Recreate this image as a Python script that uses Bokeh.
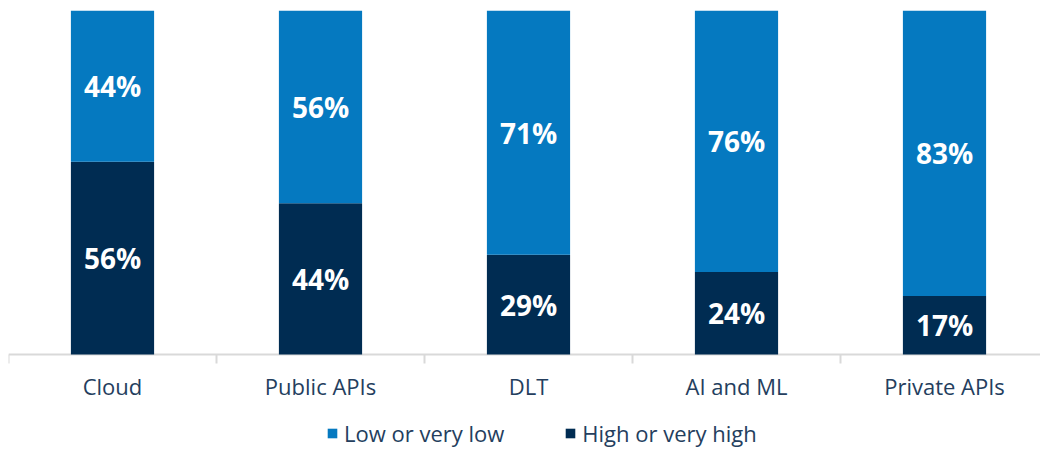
from bokeh.plotting import figure
from bokeh.models import ColumnDataSource, Range1d, Legend, LegendItem
from bokeh.core.properties import value
from bokeh.embed import file_html
from bokeh.resources import INLINE

categories = ["Cloud", "Public APIs", "DLT", "AI and ML", "Private APIs"]
high = [56, 44, 29, 24, 17]
low = [44, 56, 71, 76, 83]
series_names = ["Low or very low", "High or very high"]

BLUE = "#0579C0"
NAVY = "#002C52"
TEXT = "#243E5E"
GRID = "#D9D9D9"
FONT = "Open Sans"

# layout: frame spans y=10..450 px; value 0 sits at 354 px, 100 at 10 px
PX_PER_UNIT = 344 / 100
Y_MIN = -(450 - 354) / PX_PER_UNIT
X_MAX = 1032 / 208

x = [i + 0.5 for i in range(len(categories))]
src = ColumnDataSource(dict(
    x=x, zero=[0] * len(x), high_top=high,
    low_bottom=high, low_top=[h + l for h, l in zip(high, low)],
    high_mid=[h / 2 for h in high], low_mid=[h + l / 2 for h, l in zip(high, low)],
    high_lbl=[f"{v}%" for v in high], low_lbl=[f"{v}%" for v in low],
    cat=categories, cat_y=[-(385 - 354) / PX_PER_UNIT] * len(x),
))

p = figure(width=1040, height=450, output_backend="svg", toolbar_location=None,
           x_range=Range1d(0, X_MAX), y_range=Range1d(Y_MIN, 100),
           min_border_left=8, min_border_right=0, min_border_top=10, min_border_bottom=0)
p.outline_line_color = None
p.grid.visible = False
p.xaxis.visible = False
p.yaxis.visible = False
p.background_fill_color = "white"
p.border_fill_color = "white"

# baseline and category boundary ticks
bounds = list(range(len(categories) + 1))
p.segment(x0=[0], y0=[0], x1=[X_MAX], y1=[0], line_color=GRID, line_width=2)
p.segment(x0=bounds, y0=[0] * len(bounds), x1=bounds,
          y1=[-9 / PX_PER_UNIT] * len(bounds), line_color=GRID, line_width=2)

r_high = p.vbar(x="x", bottom="zero", top="high_top", width=0.4, source=src,
                fill_color=NAVY, line_color=None)
r_low = p.vbar(x="x", bottom="low_bottom", top="low_top", width=0.4, source=src,
               fill_color=BLUE, line_color=None)

for col_y, col_t in (("high_mid", "high_lbl"), ("low_mid", "low_lbl")):
    p.text(x="x", y=col_y, text=col_t, source=src, text_color="white",
           text_font=value(FONT), text_font_style="bold", text_font_size="28px",
           text_align="center", text_baseline="middle")

# category labels
p.text(x="x", y="cat_y", text="cat", source=src, text_color=TEXT,
       text_font=value(FONT), text_font_size="22px",
       text_align="center", text_baseline="middle")

legend = Legend(items=[LegendItem(label=series_names[0], renderers=[r_low]),
                       LegendItem(label=series_names[1], renderers=[r_high])],
                orientation="horizontal", location=(318, 2),
                label_text_font=FONT, label_text_font_size="22px", label_text_color=TEXT,
                glyph_width=12, glyph_height=12, spacing=60, padding=0, margin=0,
                border_line_color=None, background_fill_alpha=0, label_standoff=6)
p.add_layout(legend, "center")

open("out.html", "w").write(file_html(p, INLINE))
